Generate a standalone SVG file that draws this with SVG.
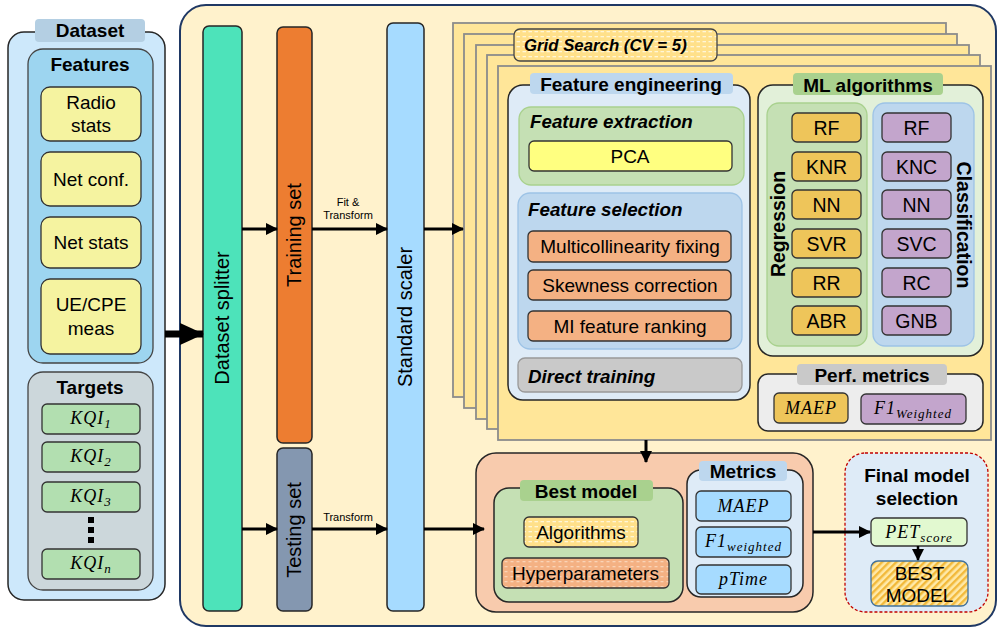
<svg xmlns="http://www.w3.org/2000/svg" width="998" height="629" viewBox="0 0 998 629">
  <defs>
    <style>
      text { font-family: "Liberation Sans", Arial, sans-serif; fill: #000; }
      .b { font-weight: bold; }
      .bi { font-weight: bold; font-style: italic; }
      .m { font-family: "Liberation Serif", "DejaVu Serif", serif; font-style: italic; letter-spacing: 1px; }
      .box { stroke: #262626; stroke-width: 1.5; }
      .stack { fill: #FFE699; stroke: #8C8C8C; stroke-width: 1.8; }
      .feat { fill: #F5F3A0; stroke: #333; stroke-width: 1.3; }
      .kqi { fill: #B2DFB0; stroke: #333; stroke-width: 1.3; }
      .fs { fill: #F4B183; stroke: #333; stroke-width: 1.3; }
      .reg { fill: #EEC55A; stroke: #333; stroke-width: 1.3; }
      .cls { fill: #C3A5CC; stroke: #333; stroke-width: 1.3; }
      .met { fill: #A6DBFF; stroke: #333; stroke-width: 1.3; }
      .conn { stroke: #000; stroke-width: 3; fill: none; }
    </style>
    <marker id="arr" markerWidth="12" markerHeight="12" refX="11" refY="6" orient="auto" markerUnits="userSpaceOnUse">
      <path d="M0,0 L12,6 L0,12 Z" fill="#000"/>
    </marker>
    <marker id="bigarr" markerWidth="24" markerHeight="22" refX="23" refY="11" orient="auto" markerUnits="userSpaceOnUse">
      <path d="M0,0 L24,11 L0,22 Z" fill="#000"/>
    </marker>
    <pattern id="dotY" width="6" height="5" patternUnits="userSpaceOnUse">
      <rect width="6" height="5" fill="#FFE08A"/>
      <rect x="0.5" y="1" width="3.5" height="1.3" fill="#FFF6D6"/>
    </pattern>
    <pattern id="dotO" width="6" height="5" patternUnits="userSpaceOnUse">
      <rect width="6" height="5" fill="#F4B183"/>
      <rect x="0.5" y="1" width="3" height="1.3" fill="#FAD3B6"/>
    </pattern>
    <pattern id="hatch" width="5" height="5" patternUnits="userSpaceOnUse" patternTransform="rotate(45)">
      <rect width="5" height="5" fill="#FFE9A8"/>
      <rect width="2.4" height="5" fill="#F2B93A"/>
    </pattern>
  </defs>

  <!-- Dataset column -->
  <g id="dataset">
    <rect x="8" y="32" width="157" height="568" rx="16" fill="#CDE8FB" class="box"/>
    <rect x="35" y="19" width="110" height="23" rx="4" fill="#B4CFE3"/>
    <text x="90" y="37" text-anchor="middle" class="b" font-size="19">Dataset</text>
  </g>
  <g id="features">
    <rect x="28" y="49" width="125" height="314" rx="15" fill="#9DD5F0" stroke="#444" stroke-width="1.3"/>
    <text x="90" y="71" text-anchor="middle" class="b" font-size="19">Features</text>
    <rect x="41" y="87" width="100" height="54" rx="9" class="feat"/>
    <text x="91" y="109" text-anchor="middle" font-size="19">Radio</text>
    <text x="91" y="132" text-anchor="middle" font-size="19">stats</text>
    <rect x="41" y="152" width="100" height="54" rx="9" class="feat"/>
    <text x="91" y="186" text-anchor="middle" font-size="19">Net conf.</text>
    <rect x="41" y="217" width="100" height="51" rx="9" class="feat"/>
    <text x="91" y="249" text-anchor="middle" font-size="19">Net stats</text>
    <rect x="41" y="279" width="100" height="75" rx="9" class="feat"/>
    <text x="91" y="311" text-anchor="middle" font-size="19">UE/CPE</text>
    <text x="91" y="335" text-anchor="middle" font-size="19">meas</text>
  </g>
  <g id="targets">
    <rect x="28" y="372" width="125" height="218" rx="15" fill="#CCD7DB" stroke="#444" stroke-width="1.3"/>
    <text x="90" y="394" text-anchor="middle" class="b" font-size="19">Targets</text>
    <rect x="42" y="404" width="98" height="30" rx="5" class="kqi"/>
    <text x="91" y="424" text-anchor="middle" class="m" font-size="18">KQI<tspan dy="4" font-size="13">1</tspan></text>
    <rect x="42" y="442" width="98" height="30" rx="5" class="kqi"/>
    <text x="91" y="462" text-anchor="middle" class="m" font-size="18">KQI<tspan dy="4" font-size="13">2</tspan></text>
    <rect x="42" y="482" width="98" height="30" rx="5" class="kqi"/>
    <text x="91" y="502" text-anchor="middle" class="m" font-size="18">KQI<tspan dy="4" font-size="13">3</tspan></text>
    <rect x="88" y="517" width="6" height="6" fill="#000"/>
    <rect x="88" y="527" width="6" height="6" fill="#000"/>
    <rect x="88" y="537" width="6" height="6" fill="#000"/>
    <rect x="42" y="549" width="98" height="30" rx="5" class="kqi"/>
    <text x="91" y="569" text-anchor="middle" class="m" font-size="18">KQI<tspan dy="4" font-size="13">n</tspan></text>
  </g>

  <!-- Pipeline container -->
  <g id="pipeline">
    <rect x="180" y="5" width="816" height="621" rx="26" fill="#FFF2CC" stroke="#1F3864" stroke-width="2"/>
  </g>

  <g id="splitter">
    <rect x="203" y="26" width="39" height="585" rx="6" fill="#4DE3BA" class="box"/>
    <text transform="translate(229,318) rotate(-90)" text-anchor="middle" font-size="20">Dataset splitter</text>
  </g>
  <g id="training-set">
    <rect x="277" y="27" width="35" height="416" rx="6" fill="#ED7D31" class="box"/>
    <text transform="translate(301,235) rotate(-90)" text-anchor="middle" font-size="20">Training set</text>
  </g>
  <g id="testing-set">
    <rect x="277" y="448" width="35" height="163" rx="6" fill="#8497B0" class="box"/>
    <text transform="translate(301,530) rotate(-90)" text-anchor="middle" font-size="20">Testing set</text>
  </g>
  <g id="scaler">
    <rect x="387" y="23" width="37" height="588" rx="6" fill="#A6DBFF" class="box"/>
    <text transform="translate(412,317) rotate(-90)" text-anchor="middle" font-size="20">Standard scaler</text>
  </g>

  <!-- Grid search folds -->
  <g id="grid-search">
    <rect x="453" y="23" width="493" height="374" class="stack"/>
    <rect x="464" y="34" width="493" height="374" class="stack"/>
    <rect x="476" y="45" width="493" height="374" class="stack"/>
    <rect x="487" y="55" width="493" height="374" class="stack"/>
    <rect x="498" y="66" width="493" height="374" class="stack"/>
    <rect x="514" y="29" width="203" height="32" rx="6" fill="url(#dotY)" stroke="#444" stroke-width="1.3"/>
    <text x="524" y="51" class="bi" font-size="16.8">Grid Search (CV = 5)</text>
  </g>

  <g id="feature-engineering">
    <rect x="508" y="85" width="242" height="315" rx="15" fill="#DEEBF7" class="box"/>
    <rect x="530" y="73" width="203" height="21" rx="4" fill="#BDD7EE"/>
    <text x="631" y="91" text-anchor="middle" class="b" font-size="19">Feature engineering</text>
  </g>
  <g id="feature-extraction">
    <rect x="519" y="107" width="225" height="78" rx="12" fill="#C5E0B4" stroke="#A9D18E" stroke-width="1.3"/>
    <text x="530" y="128" class="bi" font-size="18.8">Feature extraction</text>
    <rect x="529" y="141" width="203" height="30" rx="5" fill="#FFFF80" stroke="#333" stroke-width="1.3"/>
    <text x="630" y="163" text-anchor="middle" font-size="19">PCA</text>
  </g>
  <g id="feature-selection">
    <rect x="518" y="193" width="224" height="156" rx="12" fill="#BDD7EE" stroke="#9DC3E6" stroke-width="1.3"/>
    <text x="528" y="216" class="bi" font-size="18.8">Feature selection</text>
    <rect x="528" y="231" width="203" height="31" rx="5" class="fs"/>
    <text x="630" y="253" text-anchor="middle" font-size="19">Multicollinearity fixing</text>
    <rect x="528" y="270" width="203" height="30" rx="5" class="fs"/>
    <text x="630" y="292" text-anchor="middle" font-size="19">Skewness correction</text>
    <rect x="528" y="311" width="203" height="30" rx="5" class="fs"/>
    <text x="630" y="333" text-anchor="middle" font-size="19">MI feature ranking</text>
  </g>
  <g id="direct-training">
    <rect x="518" y="358" width="224" height="34" rx="7" fill="#C9C9C9" stroke="#999" stroke-width="1.3"/>
    <text x="528" y="383" class="bi" font-size="18.8">Direct training</text>
  </g>

  <g id="ml-algorithms">
    <rect x="758" y="85" width="225" height="271" rx="15" fill="#E2F0D9" class="box"/>
    <rect x="793" y="73" width="150" height="22" rx="4" fill="#A9D18E"/>
    <text x="868" y="92" text-anchor="middle" class="b" font-size="19">ML algorithms</text>
  </g>
  <g id="regression">
    <rect x="767" y="103" width="100" height="243" rx="12" fill="#C5E0B4" stroke="#A9D18E" stroke-width="1.3"/>
    <text transform="translate(785,224) rotate(-90)" text-anchor="middle" class="b" font-size="19.5">Regression</text>
    <rect x="792" y="113" width="69" height="29" rx="5" class="reg"/>
    <text x="826.5" y="134.5" text-anchor="middle" font-size="19.5">RF</text>
    <rect x="792" y="152" width="69" height="29" rx="5" class="reg"/>
    <text x="826.5" y="173.5" text-anchor="middle" font-size="19.5">KNR</text>
    <rect x="792" y="190" width="69" height="29" rx="5" class="reg"/>
    <text x="826.5" y="211.5" text-anchor="middle" font-size="19.5">NN</text>
    <rect x="792" y="229" width="69" height="29" rx="5" class="reg"/>
    <text x="826.5" y="250.5" text-anchor="middle" font-size="19.5">SVR</text>
    <rect x="792" y="268" width="69" height="29" rx="5" class="reg"/>
    <text x="826.5" y="289.5" text-anchor="middle" font-size="19.5">RR</text>
    <rect x="792" y="306" width="69" height="29" rx="5" class="reg"/>
    <text x="826.5" y="327.5" text-anchor="middle" font-size="19.5">ABR</text>
  </g>
  <g id="classification">
    <rect x="873" y="103" width="101" height="243" rx="12" fill="#BDD7EE" stroke="#9DC3E6" stroke-width="1.3"/>
    <text transform="translate(957,225) rotate(90)" text-anchor="middle" class="b" font-size="19.5">Classification</text>
    <rect x="882" y="113" width="69" height="29" rx="5" class="cls"/>
    <text x="916.5" y="134.5" text-anchor="middle" font-size="19.5">RF</text>
    <rect x="882" y="152" width="69" height="29" rx="5" class="cls"/>
    <text x="916.5" y="173.5" text-anchor="middle" font-size="19.5">KNC</text>
    <rect x="882" y="190" width="69" height="29" rx="5" class="cls"/>
    <text x="916.5" y="211.5" text-anchor="middle" font-size="19.5">NN</text>
    <rect x="882" y="229" width="69" height="29" rx="5" class="cls"/>
    <text x="916.5" y="250.5" text-anchor="middle" font-size="19.5">SVC</text>
    <rect x="882" y="268" width="69" height="29" rx="5" class="cls"/>
    <text x="916.5" y="289.5" text-anchor="middle" font-size="19.5">RC</text>
    <rect x="882" y="306" width="69" height="29" rx="5" class="cls"/>
    <text x="916.5" y="327.5" text-anchor="middle" font-size="19.5">GNB</text>
  </g>

  <g id="perf-metrics">
    <rect x="758" y="374" width="225" height="57" rx="10" fill="#EDEDED" class="box"/>
    <rect x="797" y="364" width="150" height="21" rx="4" fill="#C9C9C9"/>
    <text x="872" y="382" text-anchor="middle" class="b" font-size="19">Perf. metrics</text>
    <rect x="774" y="393" width="74" height="30" rx="5" class="reg"/>
    <text x="811" y="414" text-anchor="middle" class="m" font-size="18">MAEP</text>
    <rect x="861" y="394" width="105" height="30" rx="5" class="cls"/>
    <text x="913" y="414" text-anchor="middle" class="m" font-size="18">F1<tspan dy="4" font-size="13">Weighted</tspan></text>
  </g>

  <!-- Results -->
  <g id="results">
    <rect x="476" y="453" width="337" height="159" rx="20" fill="#F8CBAD" class="box"/>
  </g>
  <g id="best-model">
    <rect x="494" y="488" width="189" height="114" rx="15" fill="#C5E0B4" class="box"/>
    <rect x="520" y="480" width="133" height="21" rx="4" fill="#A9D18E"/>
    <text x="586" y="498" text-anchor="middle" class="b" font-size="19">Best model</text>
    <rect x="524" y="517" width="114" height="30" rx="5" fill="url(#dotY)" stroke="#333" stroke-width="1.3"/>
    <text x="581" y="539" text-anchor="middle" font-size="19">Algorithms</text>
    <rect x="502" y="558" width="167" height="30" rx="5" fill="url(#dotO)" stroke="#333" stroke-width="1.3"/>
    <text x="585.5" y="580" text-anchor="middle" font-size="19">Hyperparameters</text>
  </g>
  <g id="metrics">
    <rect x="687" y="470" width="116" height="127" rx="14" fill="#DEEBF7" class="box"/>
    <rect x="699" y="461" width="88" height="20" rx="4" fill="#BDD7EE"/>
    <text x="743" y="478" text-anchor="middle" class="b" font-size="19">Metrics</text>
    <rect x="696" y="491" width="95" height="30" rx="5" class="met"/>
    <text x="743.5" y="512" text-anchor="middle" class="m" font-size="18">MAEP</text>
    <rect x="696" y="527" width="95" height="30" rx="5" class="met"/>
    <text x="743.5" y="547" text-anchor="middle" class="m" font-size="18">F1<tspan dy="4" font-size="13">weighted</tspan></text>
    <rect x="696" y="565" width="95" height="29" rx="5" class="met"/>
    <text x="743.5" y="585" text-anchor="middle" class="m" font-size="18">pTime</text>
  </g>

  <g id="final-selection">
    <rect x="845" y="453" width="143" height="159" rx="20" fill="#DEEBF7" stroke="#C00000" stroke-width="1.3" stroke-dasharray="3,2"/>
    <text x="917" y="482" text-anchor="middle" class="b" font-size="19">Final model</text>
    <text x="917" y="505" text-anchor="middle" class="b" font-size="19">selection</text>
  </g>
  <g id="pet-score">
    <rect x="871" y="518" width="96" height="28" rx="5" fill="#E2F9D0" stroke="#333" stroke-width="1.3"/>
    <text x="919" y="538" text-anchor="middle" class="m" font-size="18">PET<tspan dy="4" font-size="13">score</tspan></text>
  </g>
  <g id="best-model-out">
    <rect x="871" y="561" width="97" height="45" rx="7" fill="url(#hatch)" stroke="#41719C" stroke-width="1.3"/>
    <text x="919.5" y="580" text-anchor="middle" font-size="19">BEST</text>
    <text x="919.5" y="602" text-anchor="middle" font-size="19">MODEL</text>
  </g>

  <!-- Connectors -->
  <g id="connectors">
    <line x1="165" y1="334" x2="203" y2="334" stroke="#000" stroke-width="7" marker-end="url(#bigarr)"/>
    <line x1="242" y1="229" x2="277" y2="229" class="conn" marker-end="url(#arr)"/>
    <line x1="312" y1="229" x2="387" y2="229" class="conn" marker-end="url(#arr)"/>
    <line x1="424" y1="229" x2="463" y2="229" class="conn" marker-end="url(#arr)"/>
    <line x1="242" y1="529" x2="277" y2="529" class="conn" marker-end="url(#arr)"/>
    <line x1="312" y1="529" x2="387" y2="529" class="conn" marker-end="url(#arr)"/>
    <line x1="424" y1="529" x2="484" y2="529" class="conn" marker-end="url(#arr)"/>
    <line x1="646" y1="440" x2="646" y2="462" class="conn" marker-end="url(#arr)"/>
    <line x1="813" y1="532" x2="870" y2="532" class="conn" marker-end="url(#arr)"/>
    <line x1="918" y1="546" x2="918" y2="560" stroke="#000" stroke-width="2.5" marker-end="url(#arr)"/>
    <text x="348" y="206" text-anchor="middle" font-size="11">Fit &amp;</text>
    <text x="348" y="219" text-anchor="middle" font-size="11">Transform</text>
    <text x="348" y="521" text-anchor="middle" font-size="11">Transform</text>
  </g>
</svg>
